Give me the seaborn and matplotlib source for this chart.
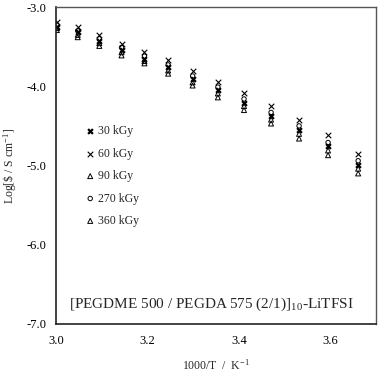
import numpy as np
import pandas as pd
import matplotlib
matplotlib.use('Agg')
import matplotlib.pyplot as plt
import seaborn as sns

# 1000/T for 60 .. 0 degC in 5 degC steps
temp_c = [60, 55, 50, 45, 40, 35, 30, 25, 20, 15, 10, 5, 0]
inv_t = [1000.0 / (t + 273.15) for t in temp_c]

log_30 = [-3.245, -3.32, -3.43, -3.54, -3.65, -3.76, -3.91, -4.05, -4.21, -4.37, -4.55, -4.76, -4.99]
log_60 = [-3.19, -3.25, -3.35, -3.46, -3.57, -3.67, -3.81, -3.94, -4.09, -4.25, -4.42, -4.62, -4.85]
log_90 = [-3.265, -3.35, -3.455, -3.57, -3.68, -3.80, -3.95, -4.09, -4.25, -4.42, -4.60, -4.81, -5.04]
log_270 = [-3.225, -3.30, -3.40, -3.51, -3.62, -3.73, -3.87, -4.01, -4.16, -4.33, -4.50, -4.71, -4.94]
log_360 = [-3.29, -3.38, -3.49, -3.61, -3.71, -3.84, -3.99, -4.14, -4.30, -4.47, -4.66, -4.87, -5.10]

labels = ['30 kGy', '60 kGy', '90 kGy', '270 kGy', '360 kGy']
series = [log_30, log_60, log_90, log_270, log_360]

sns.set_style('white')
plt.rcParams['font.family'] = ['Liberation Serif', 'DejaVu Serif']
plt.rcParams['mathtext.fontset'] = 'stix'

fig = plt.figure(figsize=(3.79, 3.74), dpi=100)
ax = fig.add_axes([0.148, 0.134, 0.844, 0.847])

styles = {
    '30 kGy': dict(marker='x', color='black', s=12, linewidth=1.6),
    '60 kGy': dict(marker='x', color='black', s=16, linewidth=0.8),
    '90 kGy': dict(marker='^', facecolor='none', edgecolor='black', s=13, linewidth=0.7),
    '270 kGy': dict(marker='o', facecolor='none', edgecolor='black', s=10, linewidth=0.7),
    '360 kGy': dict(marker='^', facecolor='none', edgecolor='black', s=13, linewidth=0.7),
}

for lab, vals in zip(labels, series):
    df = pd.DataFrame({'x': inv_t, 'y': vals})
    sns.scatterplot(data=df, x='x', y='y', ax=ax, label=lab, **styles[lab])

ax.set_xlim(3.0, 3.7)
ax.set_ylim(-7.0, -3.0)
ax.set_xticks([3.0, 3.2, 3.4, 3.6])
ax.set_xticklabels(['3.0', '3.2', '3.4', '3.6'])
ax.set_yticks([-7, -6, -5, -4, -3])
ax.set_yticklabels(['-7.0', '-6.0', '-5.0', '-4.0', '-3.0'])
ax.tick_params(direction='in', length=3, width=0.8, labelsize=9, colors='black')
ax.tick_params(axis='x', pad=8)
ax.tick_params(axis='y', pad=7)

for side in ['left', 'bottom']:
    ax.spines[side].set_color('#222222')
    ax.spines[side].set_linewidth(1.2)
for side in ['top', 'right']:
    ax.spines[side].set_color('#555555')
    ax.spines[side].set_linewidth(1.0)

ax.set_xlabel('1000/T  /  K$^{\\mathregular{-1}}$', fontsize=8.5, labelpad=8)
ax.set_ylabel('Log[\\$ / S cm$^{\\mathregular{-1}}$]', fontsize=8.5, labelpad=6)

ax.text(0.485, 0.035, '[PEGDME 500 / PEGDA 575 (2/1)]$_{\\mathregular{10}}$-LiTFSI',
        transform=ax.transAxes, ha='center', va='bottom', fontsize=11)

leg = ax.legend(loc='upper left', bbox_to_anchor=(0.055, 0.66), frameon=False,
                fontsize=8.5, labelspacing=0.88, handletextpad=0.2, handlelength=1.0,
                markerscale=1.0)

plt.savefig('out.png', dpi=100)
